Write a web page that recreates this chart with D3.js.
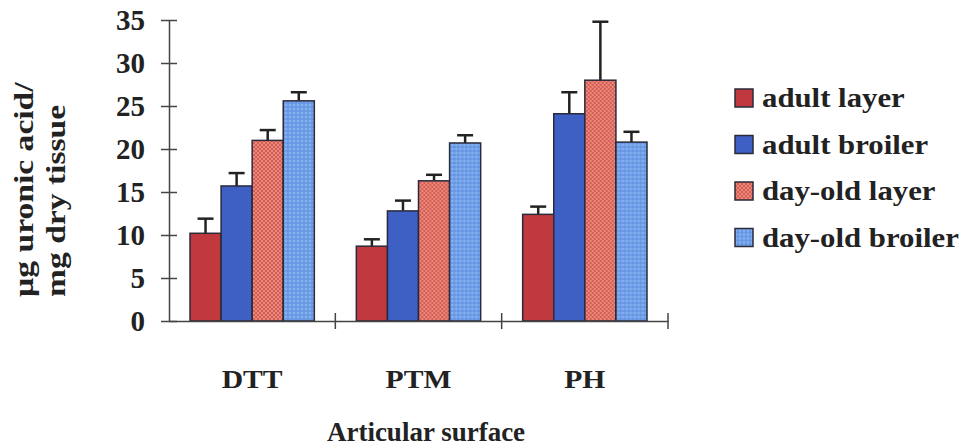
<!DOCTYPE html>
<html>
<head>
<meta charset="utf-8">
<script src="https://cdn.jsdelivr.net/npm/d3@7"></script>
<style>
  html, body { margin: 0; padding: 0; background: #fff; }
  svg { display: block; font-family: "Liberation Serif", "Times New Roman", serif; font-weight: bold; }
</style>
</head>
<body>
<svg id="chart" width="963" height="446"></svg>
<script>
const categories = ["DTT", "PTM", "PH"];
const series = ["adult layer", "adult broiler", "day-old layer", "day-old broiler"];
const means = [
  [10.2, 15.7, 21.0, 25.6],
  [8.7, 12.8, 16.3, 20.7],
  [12.4, 24.1, 28.0, 20.8]
];
const upperErr = [
  [11.9, 17.2, 22.2, 26.6],
  [9.5, 14.0, 17.0, 21.6],
  [13.3, 26.6, 34.8, 22.0]
];
const yTicks = [0, 5, 10, 15, 20, 25, 30, 35];
const fills = ["#c0393e", "#3e5fc4", "url(#dotRed)", "url(#dotBlue)"];

const svg = d3.select("#chart");
const plotLeft = 169, plotRight = 668, plotTop = 20, plotBottom = 321;
const stretch = 1.14; // the scanned lettering is a bit wider than Times

const defs = svg.append("defs");
const p1 = defs.append("pattern").attr("id", "dotRed").attr("width", 4).attr("height", 4)
  .attr("patternUnits", "userSpaceOnUse");
p1.append("rect").attr("width", 4).attr("height", 4).attr("fill", "#d65c55");
p1.append("circle").attr("cx", 1).attr("cy", 1).attr("r", 0.9).attr("fill", "#f2a08c");
p1.append("circle").attr("cx", 3).attr("cy", 3).attr("r", 0.9).attr("fill", "#f2a08c");
const p2 = defs.append("pattern").attr("id", "dotBlue").attr("width", 4).attr("height", 4)
  .attr("patternUnits", "userSpaceOnUse");
p2.append("rect").attr("width", 4).attr("height", 4).attr("fill", "#6f9ee8");
p2.append("circle").attr("cx", 1).attr("cy", 1).attr("r", 0.8).attr("fill", "#a9c8f5");
p2.append("circle").attr("cx", 3).attr("cy", 3).attr("r", 0.8).attr("fill", "#5a88d8");

const x0 = d3.scaleBand().domain(categories).range([plotLeft, plotRight]).paddingInner(0).paddingOuter(0);
const x1 = d3.scaleBand().domain(series).range([21, x0.bandwidth() - 21]).padding(0);
const y = d3.scaleLinear().domain([0, 35]).range([plotBottom, plotTop]);

// bars with upper error bars
const groups = svg.append("g").selectAll("g")
  .data(categories)
  .join("g")
  .attr("transform", d => `translate(${x0(d)},0)`);

groups.selectAll("g")
  .data((d, i) => series.map((s, j) => ({ s, j, v: means[i][j], e: upperErr[i][j] })))
  .join("g")
  .each(function (d) {
    const g = d3.select(this);
    const cx = x1(d.s) + x1.bandwidth() / 2;
    g.append("line").attr("x1", cx).attr("x2", cx).attr("y1", y(d.v)).attr("y2", y(d.e))
      .attr("stroke", "#222").attr("stroke-width", 2.5);
    g.append("line").attr("x1", cx - 8).attr("x2", cx + 8).attr("y1", y(d.e)).attr("y2", y(d.e))
      .attr("stroke", "#222").attr("stroke-width", 2.5);
    g.append("rect")
      .attr("x", x1(d.s))
      .attr("y", y(d.v))
      .attr("width", x1.bandwidth())
      .attr("height", y(0) - y(d.v))
      .attr("fill", fills[d.j])
      .attr("stroke", "#2a2a3a")
      .attr("stroke-width", 1.5);
  });

// y axis
const yAxis = svg.append("g")
  .attr("transform", `translate(${plotLeft},0)`)
  .call(d3.axisLeft(y).tickValues(yTicks).tickSize(0).tickPadding(0));
yAxis.select(".domain").attr("stroke", "#444").attr("stroke-width", 1.5);
yAxis.selectAll(".tick line").attr("x1", -8).attr("x2", 8).attr("stroke", "#444").attr("stroke-width", 1.5);
yAxis.selectAll(".tick text")
  .attr("x", -24)
  .attr("dy", "0.34em")
  .attr("font-size", 29)
  .attr("font-family", "Liberation Serif")
  .attr("font-weight", "bold")
  .attr("fill", "#222");

// x axis
const xAxis = svg.append("g")
  .attr("transform", `translate(0,${plotBottom})`)
  .call(d3.axisBottom(x0).tickSize(0).tickFormat(""));
xAxis.select(".domain").attr("stroke", "#444").attr("stroke-width", 1.5);
svg.append("g").selectAll("line")
  .data(categories.slice(1).map(c => x0(c)).concat([plotRight]))
  .join("line")
  .attr("x1", d => d).attr("x2", d => d)
  .attr("y1", plotBottom - 8).attr("y2", plotBottom + 8)
  .attr("stroke", "#444").attr("stroke-width", 1.5);

svg.append("g").selectAll("text")
  .data(categories)
  .join("text")
  .attr("transform", d => `translate(${x0(d) + x0.bandwidth() / 2},388) scale(${stretch},1)`)
  .attr("text-anchor", "middle")
  .attr("font-size", 26)
  .attr("fill", "#222")
  .text(d => d);

svg.append("text")
  .attr("transform", "translate(426,441)")
  .attr("text-anchor", "middle")
  .attr("font-size", 27)
  .attr("fill", "#222")
  .text("Articular surface");

// y title
const yt = svg.append("text")
  .attr("transform", `translate(33,297) rotate(-90) scale(1.2,1)`)
  .attr("font-size", 28)
  .attr("fill", "#222");
yt.append("tspan").attr("x", 0).attr("y", 0).text("µg uronic acid/");
yt.append("tspan").attr("x", 0).attr("y", 32).text("mg dry tissue");

// legend
const legend = svg.append("g").selectAll("g")
  .data(series)
  .join("g")
  .attr("transform", (d, i) => `translate(735,${98 + i * 46.5})`);
legend.append("rect")
  .attr("x", 0).attr("y", -9).attr("width", 18).attr("height", 18)
  .attr("fill", (d, i) => fills[i])
  .attr("stroke", "#2a2a3a").attr("stroke-width", 1.5);
legend.append("text")
  .attr("transform", `translate(27,0) scale(${stretch},1)`)
  .attr("dy", "0.35em")
  .attr("font-size", 27)
  .attr("fill", "#222")
  .text(d => d);
</script>
</body>
</html>
